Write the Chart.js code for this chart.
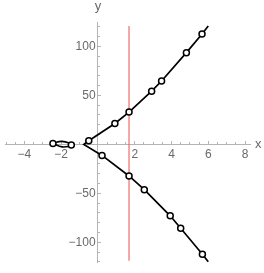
<!DOCTYPE html>
<html><head><meta charset="utf-8">
<script src="https://cdn.jsdelivr.net/npm/chart.js@4"></script>
<style>html,body{margin:0;padding:0;background:#fff;overflow:hidden}</style>
</head><body>
<canvas id="c" width="264" height="273"></canvas>
<script>
// ---- data ----
const curveX = [6.0, 5.66, 4.81, 3.46, 2.92, 1.69, 0.92, -0.5, -0.77, 0.22, 1.69, 2.52, 3.93, 4.5, 5.68, 6.0];
const curveY = [121, 112.7, 93.7, 64.7, 54.3, 33, 21.3, 3.7, 0, -11.3, -32.3, -46.3, -73, -85.7, -112.3, -120];
const markX = [5.66, 4.81, 3.46, 2.92, 1.69, 0.92, -0.5, 0.22, 1.69, 2.52, 3.93, 4.5, 5.68];
const markY = [112.7, 93.7, 64.7, 54.3, 33, 21.3, 3.7, -11.3, -32.3, -46.3, -73, -85.7, -112.3];
const loopX = [-2.45, -1.95, -1.45, -1.95, -2.45];
const loopY = [1.0, 3.0, -0.6, -2.6, 1.0];
const loopMarkX = [-2.45, -1.45];
const loopMarkY = [1.0, -0.6];
const redX = [1.69, 1.69];
const redY = [-119, 121];
const xTickValues = [-4, -2, 2, 4, 6, 8];
const yTickValues = [-100, -50, 50, 100];

const pts = (xs, ys) => xs.map((x, i) => ({x, y: ys[i]}));
const fmt = v => v < 0 ? '\u2212' + (-v) : String(v);
const AX = '#b4b4b4', TXT = '#6a6a6a';
const FONT = {family: '"Liberation Sans", Arial, sans-serif', size: 12};

const axisTitles = {
  id: 'axisTitles',
  afterDraw(chart) {
    const {ctx, scales: {x, y}} = chart;
    ctx.save();
    ctx.fillStyle = TXT;
    ctx.font = '13px "Liberation Sans", Arial, sans-serif';
    ctx.textAlign = 'left'; ctx.textBaseline = 'middle';
    ctx.fillText('x', x.right + 5, y.getPixelForValue(0));
    ctx.textAlign = 'center'; ctx.textBaseline = 'alphabetic';
    ctx.fillText('y', x.getPixelForValue(0), y.top - 12);
    ctx.restore();
  }
};

new Chart(document.getElementById('c'), {
  type: 'scatter',
  data: {datasets: [
    {data: pts(markX, markY), showLine: false, pointRadius: 3, pointBorderWidth: 1.5,
     pointBackgroundColor: '#fff', pointBorderColor: '#000', order: 0},
    {data: pts(loopMarkX, loopMarkY), showLine: false, pointRadius: 3, pointBorderWidth: 1.5,
     pointBackgroundColor: '#fff', pointBorderColor: '#000', order: 1},
    {data: pts(curveX, curveY), showLine: true, pointRadius: 0, borderColor: '#000',
     borderWidth: 1.7, tension: 0, order: 2},
    {data: pts(loopX, loopY), showLine: true, pointRadius: 0, borderColor: '#000',
     borderWidth: 1.6, tension: 0.45, order: 3},
    {data: pts(redX, redY), showLine: true, pointRadius: 0, borderColor: 'rgba(238,90,90,0.6)',
     borderWidth: 1.8, order: 4}
  ]},
  options: {
    responsive: false, animation: false, devicePixelRatio: 1,
    layout: {padding: {left: 4, right: 14, top: 22, bottom: 5}},
    plugins: {legend: {display: false}, tooltip: {enabled: false}},
    scales: {
      x: {type: 'linear', min: -5.03, max: 8.27, position: {y: 0},
          afterFit: s => { s.height = 0; },
          afterBuildTicks: s => { s.ticks = xTickValues.map(v => ({value: v})); },
          border: {color: AX, width: 1},
          grid: {drawOnChartArea: false, tickLength: -4, color: AX},
          ticks: {autoSkip: false, maxRotation: 0, padding: 7.5, color: TXT, font: FONT, callback: v => fmt(v)}},
      y: {type: 'linear', min: -121, max: 125, position: {x: 0},
          afterFit: s => { s.width = 0; },
          afterBuildTicks: s => { s.ticks = yTickValues.map(v => ({value: v})); },
          border: {color: AX, width: 1},
          grid: {drawOnChartArea: false, tickLength: -4, color: AX},
          ticks: {autoSkip: false, color: TXT, font: FONT, callback: v => fmt(v) + '\u2009'}},
      x2: {type: 'linear', min: -5.03, max: 8.27, position: {y: 0},
           afterFit: s => { s.height = 0; },
           border: {display: false},
           grid: {drawOnChartArea: false, tickLength: -2, color: AX},
           ticks: {display: false, stepSize: 0.5, includeBounds: false}},
      y2: {type: 'linear', min: -121, max: 125, position: {x: 0},
           afterFit: s => { s.width = 0; },
           border: {display: false},
           grid: {drawOnChartArea: false, tickLength: -2, color: AX},
           ticks: {display: false, stepSize: 10, includeBounds: false}}
    }
  },
  plugins: [axisTitles]
});
</script>
</body></html>
